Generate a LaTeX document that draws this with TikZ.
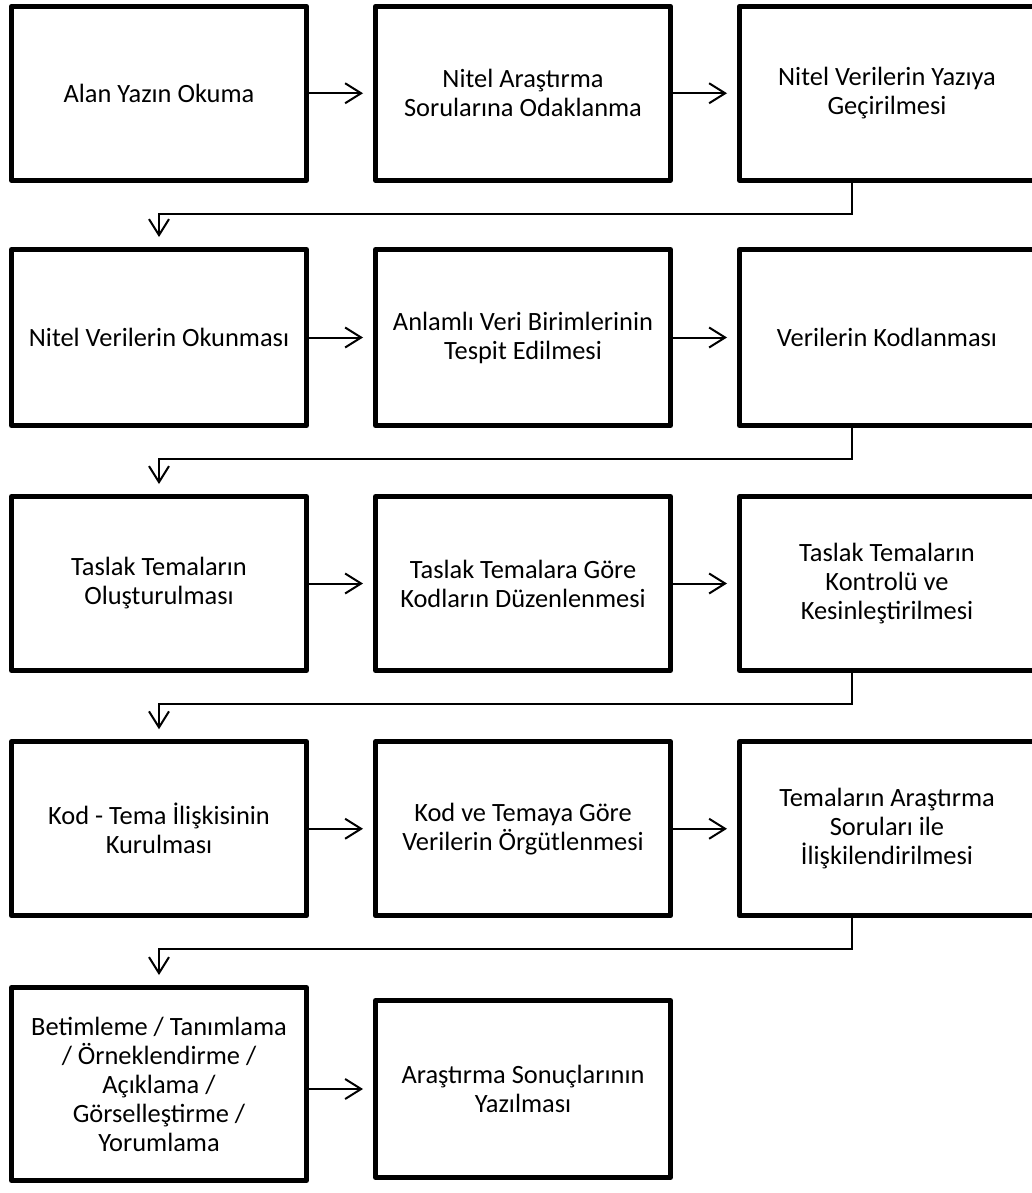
\documentclass[tikz,border=0pt]{standalone}
\usepackage{fontspec}
\setmainfont{Carlito}
\usetikzlibrary{arrows.meta, positioning}

\begin{document}
\begin{tikzpicture}[x=1pt, y=-1pt,
		stepbox/.style={draw, line width=5pt, line join=round, minimum width=295pt, minimum height=174pt, inner sep=0pt, align=center, font=\fontsize{26.4}{29}\selectfont},
		flow/.style={line width=2pt, -{Straight Barb[length=16pt, width=20pt]}, shorten >=10pt}]
			\useasboundingbox (0,0) rectangle (1032,1193);
			% row 1
			\node[stepbox] (st 1) at (159,93.25) {Alan Yazın Okuma};
			\node[stepbox] (st 2) at (523,93.25) {Nitel Araştırma\\Sorularına Odaklanma};
			\node[stepbox] (st 3) at (887,93.25) {Nitel Verilerin Yazıya\\Geçirilmesi};
			% row 2
			\node[stepbox, minimum height=176pt] (st 4) at (159,337.5) {Nitel Verilerin Okunması};
			\node[stepbox, minimum height=176pt] (st 5) at (523,337.5) {Anlamlı Veri Birimlerinin\\Tespit Edilmesi};
			\node[stepbox, minimum height=176pt] (st 6) at (887,337.5) {Verilerin Kodlanması};
			% row 3
			\node[stepbox] (st 7) at (159,583.5) {Taslak Temaların\\Oluşturulması};
			\node[stepbox] (st 8) at (523,583.5) {Taslak Temalara Göre\\Kodların Düzenlenmesi};
			\node[stepbox] (st 9) at (887,583.5) {Taslak Temaların\\Kontrolü ve\\Kesinleştirilmesi};
			% row 4
			\node[stepbox] (st 10) at (159,828.75) {Kod - Tema İlişkisinin\\Kurulması};
			\node[stepbox] (st 11) at (523,828.75) {Kod ve Temaya Göre\\Verilerin Örgütlenmesi};
			\node[stepbox] (st 12) at (887,828.75) {Temaların Araştırma\\Soruları ile\\İlişkilendirilmesi};
			% row 5
			\node[stepbox, minimum height=193pt] (st 13) at (159,1084) {Betimleme / Tanımlama\\/ Örneklendirme /\\Açıklama /\\Görselleştirme /\\Yorumlama};
			\node[stepbox, minimum height=177pt] (st 14) at (523,1089) {Araştırma Sonuçlarının\\Yazılması};

			\draw[flow] (st 1) -- (st 2);
			\draw[flow] (st 2) -- (st 3);
			\draw[flow] ([xshift=-35pt]st 3.south) -- ++(0,31) -| (st 4.north);
			\draw[flow] (st 4) -- (st 5);
			\draw[flow] (st 5) -- (st 6);
			\draw[flow] ([xshift=-35pt]st 6.south) -- ++(0,31) -| (st 7.north);
			\draw[flow] (st 7) -- (st 8);
			\draw[flow] (st 8) -- (st 9);
			\draw[flow] ([xshift=-35pt]st 9.south) -- ++(0,31) -| (st 10.north);
			\draw[flow] (st 10) -- (st 11);
			\draw[flow] (st 11) -- (st 12);
			\draw[flow] ([xshift=-35pt]st 12.south) -- ++(0,31) -| (st 13.north);
			\draw[flow] (st 14.west -| st 13.east) -- (st 14.west);
		\end{tikzpicture}
\end{document}
